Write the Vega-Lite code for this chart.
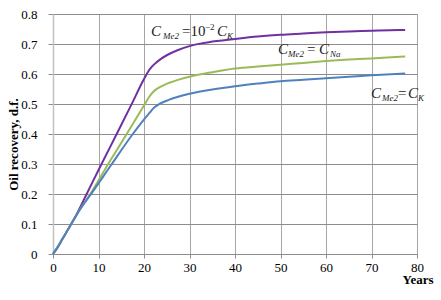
{
  "$schema": "https://vega.github.io/schema/vega-lite/v6.json",
  "autosize": {"type": "none"},
  "padding": {"left": 53, "top": 14, "right": 24, "bottom": 46},
  "width": 364,
  "height": 240,
  "background": "white",
  "config": {
    "view": {"stroke": "#9a9a9a", "strokeWidth": 1},
    "font": "Liberation Serif, Times New Roman, serif"
  },
  "datasets": {
    "curves": [
      {"s": "Ca", "x": 0, "y": 0}, {"s": "Ca", "x": 1, "y": 0.022}, {"s": "Ca", "x": 2, "y": 0.048}, {"s": "Ca", "x": 3, "y": 0.074}, {"s": "Ca", "x": 4, "y": 0.1}, {"s": "Ca", "x": 5, "y": 0.127}, {"s": "Ca", "x": 7.4, "y": 0.2}, {"s": "Ca", "x": 10.5, "y": 0.295}, {"s": "Ca", "x": 14, "y": 0.4}, {"s": "Ca", "x": 17.2, "y": 0.497}, {"s": "Ca", "x": 20, "y": 0.583}, {"s": "Ca", "x": 21, "y": 0.61}, {"s": "Ca", "x": 21.6, "y": 0.622}, {"s": "Ca", "x": 22.3, "y": 0.633}, {"s": "Ca", "x": 23.5, "y": 0.648}, {"s": "Ca", "x": 25.3, "y": 0.665}, {"s": "Ca", "x": 27.5, "y": 0.68}, {"s": "Ca", "x": 30, "y": 0.693}, {"s": "Ca", "x": 33, "y": 0.703}, {"s": "Ca", "x": 36, "y": 0.71}, {"s": "Ca", "x": 40, "y": 0.717}, {"s": "Ca", "x": 45, "y": 0.725}, {"s": "Ca", "x": 50, "y": 0.731}, {"s": "Ca", "x": 55, "y": 0.735}, {"s": "Ca", "x": 60, "y": 0.739}, {"s": "Ca", "x": 65, "y": 0.742}, {"s": "Ca", "x": 70, "y": 0.744}, {"s": "Ca", "x": 74, "y": 0.746}, {"s": "Ca", "x": 77.4, "y": 0.747},
      {"s": "Na", "x": 0, "y": 0}, {"s": "Na", "x": 1, "y": 0.022}, {"s": "Na", "x": 2, "y": 0.048}, {"s": "Na", "x": 3, "y": 0.074}, {"s": "Na", "x": 4, "y": 0.1}, {"s": "Na", "x": 6, "y": 0.15}, {"s": "Na", "x": 8.5, "y": 0.207}, {"s": "Na", "x": 12.2, "y": 0.302}, {"s": "Na", "x": 16.2, "y": 0.4}, {"s": "Na", "x": 20, "y": 0.495}, {"s": "Na", "x": 21.2, "y": 0.525}, {"s": "Na", "x": 22, "y": 0.54}, {"s": "Na", "x": 23, "y": 0.552}, {"s": "Na", "x": 24.5, "y": 0.564}, {"s": "Na", "x": 26, "y": 0.573}, {"s": "Na", "x": 28, "y": 0.583}, {"s": "Na", "x": 30, "y": 0.591}, {"s": "Na", "x": 35, "y": 0.606}, {"s": "Na", "x": 40, "y": 0.618}, {"s": "Na", "x": 45, "y": 0.625}, {"s": "Na", "x": 50, "y": 0.631}, {"s": "Na", "x": 55, "y": 0.637}, {"s": "Na", "x": 60, "y": 0.643}, {"s": "Na", "x": 65, "y": 0.648}, {"s": "Na", "x": 70, "y": 0.652}, {"s": "Na", "x": 77.4, "y": 0.658},
      {"s": "K", "x": 0, "y": 0}, {"s": "K", "x": 1, "y": 0.022}, {"s": "K", "x": 2, "y": 0.048}, {"s": "K", "x": 3, "y": 0.074}, {"s": "K", "x": 4, "y": 0.1}, {"s": "K", "x": 6, "y": 0.15}, {"s": "K", "x": 8.5, "y": 0.203}, {"s": "K", "x": 12.7, "y": 0.295}, {"s": "K", "x": 17.3, "y": 0.395}, {"s": "K", "x": 20.2, "y": 0.452}, {"s": "K", "x": 21.3, "y": 0.472}, {"s": "K", "x": 22.2, "y": 0.488}, {"s": "K", "x": 23.5, "y": 0.501}, {"s": "K", "x": 25.3, "y": 0.513}, {"s": "K", "x": 27.5, "y": 0.524}, {"s": "K", "x": 30, "y": 0.534}, {"s": "K", "x": 35, "y": 0.548}, {"s": "K", "x": 40, "y": 0.559}, {"s": "K", "x": 45, "y": 0.568}, {"s": "K", "x": 50, "y": 0.576}, {"s": "K", "x": 55, "y": 0.581}, {"s": "K", "x": 60, "y": 0.586}, {"s": "K", "x": 65, "y": 0.591}, {"s": "K", "x": 70, "y": 0.596}, {"s": "K", "x": 77.4, "y": 0.602}
    ],
    "labels": [
      {"kind": "it", "x": 21.54, "y": 0.7267, "t": "C"},
      {"kind": "sub", "x": 24.18, "y": 0.7267, "t": "Me2"},
      {"kind": "up", "x": 28.35, "y": 0.7267, "t": "=10"},
      {"kind": "sup", "x": 33.4, "y": 0.7267, "t": "−2"},
      {"kind": "it", "x": 36.04, "y": 0.7267, "t": "C"},
      {"kind": "sub", "x": 38.24, "y": 0.7267, "t": "K"},
      {"kind": "it", "x": 49.45, "y": 0.6657, "t": "C"},
      {"kind": "sub", "x": 51.65, "y": 0.6657, "t": "Me2"},
      {"kind": "up", "x": 55.82, "y": 0.6657, "t": "="},
      {"kind": "it", "x": 58.46, "y": 0.6657, "t": "C"},
      {"kind": "sub", "x": 60.88, "y": 0.6657, "t": "Na"},
      {"kind": "it", "x": 69.89, "y": 0.519, "t": "C"},
      {"kind": "sub", "x": 72.31, "y": 0.519, "t": "Me2"},
      {"kind": "up", "x": 75.82, "y": 0.519, "t": "="},
      {"kind": "it", "x": 78.02, "y": 0.519, "t": "C"},
      {"kind": "sub", "x": 80.22, "y": 0.519, "t": "K"}
    ]
  },
  "encoding": {
    "x": {
      "field": "x", "type": "quantitative",
      "scale": {"domain": [0, 80], "nice": false},
      "axis": {
        "values": [0, 10, 20, 30, 40, 50, 60, 70, 80],
        "title": "Years",
        "titleFont": "Liberation Serif, Times New Roman, serif", "titleFontSize": 13, "titleFontWeight": "bold", "titleColor": "black",
        "titleX": 380, "titleY": 29, "titleAlign": "right", "titleBaseline": "alphabetic", "titleAnchor": null,
        "labelFont": "Liberation Serif, Times New Roman, serif", "labelFontSize": 13, "labelColor": "black", "labelPadding": 3,
        "labelOverlap": false, "labelBound": false,
        "tickSize": 4, "tickColor": "#8c8c8c", "domainColor": "#8c8c8c",
        "grid": true, "gridColor": "#a6a6a6", "labelFlush": false
      }
    },
    "y": {
      "field": "y", "type": "quantitative",
      "scale": {"domain": [0, 0.8], "nice": false},
      "axis": {
        "values": [0, 0.1, 0.2, 0.3, 0.4, 0.5, 0.6, 0.7, 0.8],
        "format": "~g",
        "title": "Oil recovery, d.f.",
        "titleFont": "Liberation Serif, Times New Roman, serif", "titleFontSize": 13, "titleFontWeight": "bold", "titleColor": "black",
        "titleX": -40, "titleY": 130, "titleAngle": -90, "titleAlign": "center", "titleBaseline": "middle", "titleAnchor": null,
        "labelFont": "Liberation Serif, Times New Roman, serif", "labelFontSize": 13, "labelColor": "black", "labelPadding": 11,
        "labelOverlap": false, "labelBound": false,
        "tickSize": 5, "tickColor": "#8c8c8c", "domainColor": "#c0c0c0", "domainWidth": 1.5,
        "grid": true, "gridColor": "#8c8c8c", "labelFlush": false
      }
    }
  },
  "layer": [
    {
      "data": {"name": "curves"},
      "mark": {"type": "line", "strokeWidth": 2, "interpolate": "monotone"},
      "encoding": {
        "color": {
          "field": "s", "type": "nominal",
          "scale": {"domain": ["Ca", "Na", "K"], "range": ["#7030A0", "#9BBB59", "#4F81BD"]},
          "legend": null
        }
      }
    },
    {
      "data": {"name": "labels"},
      "transform": [{"filter": "datum.kind === 'it'"}],
      "mark": {"type": "text", "font": "Liberation Serif, Times New Roman, serif", "fontStyle": "italic", "fontSize": 15, "align": "left", "baseline": "alphabetic", "color": "#222222"},
      "encoding": {"text": {"field": "t"}}
    },
    {
      "data": {"name": "labels"},
      "transform": [{"filter": "datum.kind === 'up'"}],
      "mark": {"type": "text", "font": "Liberation Serif, Times New Roman, serif", "fontSize": 15, "align": "left", "baseline": "alphabetic", "color": "#222222"},
      "encoding": {"text": {"field": "t"}}
    },
    {
      "data": {"name": "labels"},
      "transform": [{"filter": "datum.kind === 'sub'"}],
      "mark": {"type": "text", "font": "Liberation Serif, Times New Roman, serif", "fontStyle": "italic", "fontSize": 9, "align": "left", "baseline": "alphabetic", "dy": 3, "color": "#222222"},
      "encoding": {"text": {"field": "t"}}
    },
    {
      "data": {"name": "labels"},
      "transform": [{"filter": "datum.kind === 'sup'"}],
      "mark": {"type": "text", "font": "Liberation Serif, Times New Roman, serif", "fontSize": 9, "align": "left", "baseline": "alphabetic", "dy": -6, "color": "#222222"},
      "encoding": {"text": {"field": "t"}}
    }
  ]
}
